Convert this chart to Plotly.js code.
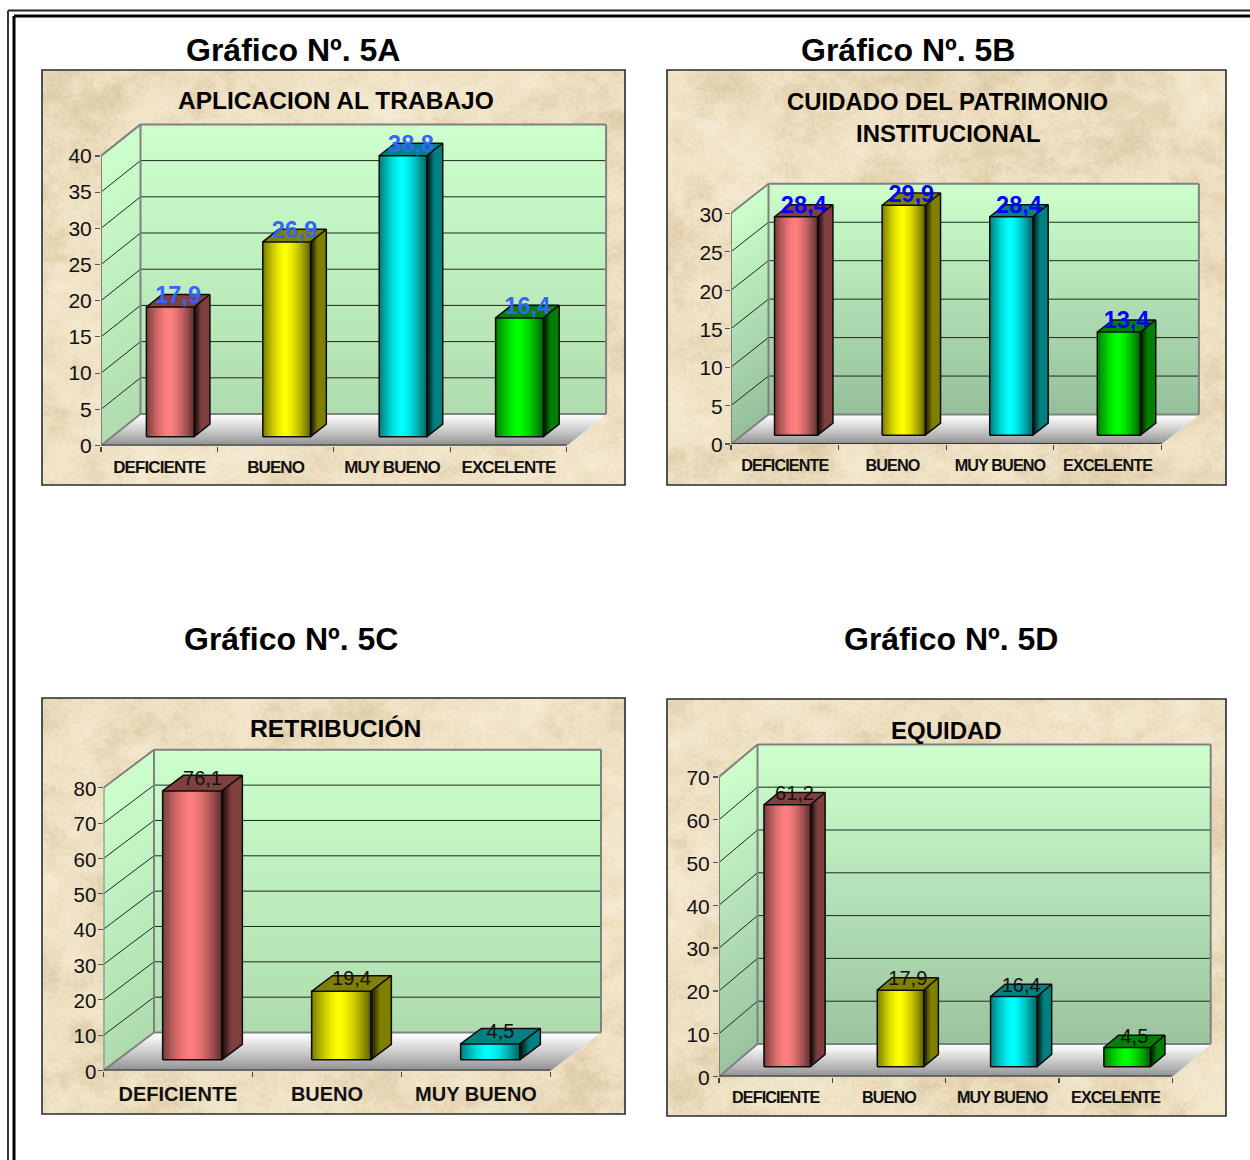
<!DOCTYPE html>
<html lang="es">
<head>
<meta charset="utf-8">
<script src="https://cdn.plot.ly/plotly-3.0.1.min.js"></script>
<style>
html,body{margin:0;padding:0;background:#fff}
#chart{width:1250px;height:1160px}
.xtick text,.x2tick text,.x4tick text{letter-spacing:-0.9px}
</style>
</head>
<body>
<div id="chart"></div>
<script>
// Ratings by category, in percent
const categories4 = ["DEFICIENTE", "BUENO", "MUY BUENO", "EXCELENTE"];
const categories3 = ["DEFICIENTE", "BUENO", "MUY BUENO"];
const valuesAplicacion = [17.9, 26.9, 38.8, 16.4];
const valuesCuidado = [28.4, 29.9, 28.4, 13.4];
const valuesRetribucion = [76.1, 19.4, 4.5];
const valuesEquidad = [61.2, 17.9, 16.4, 4.5];
const ticks40 = [0, 5, 10, 15, 20, 25, 30, 35, 40];
const ticks30 = [0, 5, 10, 15, 20, 25, 30];
const ticks80 = [0, 10, 20, 30, 40, 50, 60, 70, 80];
const ticks70 = [0, 10, 20, 30, 40, 50, 60, 70];
const faceColors = [[255, 128, 128], [255, 255, 0], [0, 255, 255], [0, 255, 0]];

const W = 1250, H = 1160;
const FONT = '"Liberation Sans", Arial, sans-serif';

// Page position and oblique projection of each panel
const panels = [
  {cats: categories4, vals: valuesAplicacion, ticks: ticks40, box: [42, 70, 625, 485],
   ox: 101, oy: 445.5, step: 116.4, ppu: 7.24, dx: 39.5, dy: 31.5, bar: 0.41, d0: 0.28, d1: 0.68,
   wallLow: [176, 221, 176], labelColor: '#3366FF', labelBold: true, labelSize: 23.5,
   catSize: 17, catStandoff: 1, tickSize: 21, standoff: -1, shift: 0},
  {cats: categories4, vals: valuesCuidado, ticks: ticks30, box: [667, 70, 1226, 485],
   ox: 731, oy: 444, step: 107.6, ppu: 7.69, dx: 37.5, dy: 29.5, bar: 0.40, d0: 0.30, d1: 0.71,
   wallLow: [150, 192, 155], labelColor: '#0000FF', labelBold: true, labelSize: 23.5,
   catSize: 16.2, catStandoff: 2, tickSize: 21, standoff: -2, shift: 1},
  {cats: categories3, vals: valuesRetribucion, ticks: ticks80, box: [42, 698, 625, 1114],
   ox: 103.5, oy: 1070.5, step: 149, ppu: 3.534, dx: 50.5, dy: 38, bar: 0.396, d0: 0.28, d1: 0.69,
   wallLow: [174, 220, 174], labelColor: '#111111', labelBold: false, labelSize: 20,
   catSize: 20, catStandoff: 0, tickSize: 20.5, standoff: -3, shift: 1},
  {cats: categories4, vals: valuesEquidad, ticks: ticks70, box: [667, 699, 1226, 1116],
   ox: 719, oy: 1076.5, step: 113.3, ppu: 4.28, dx: 38.5, dy: 32.5, bar: 0.41, d0: 0.30, d1: 0.68,
   wallLow: [156, 196, 160], labelColor: '#111111', labelBold: false, labelSize: 20,
   catSize: 16.2, catStandoff: 1, tickSize: 21, standoff: -1, shift: 1}
];
const outerTitles = [
  {text: 'Gráfico Nº. 5A', x: 292.5, y: 50},
  {text: 'Gráfico Nº. 5B', x: 907.5, y: 50},
  {text: 'Gráfico Nº. 5C', x: 291, y: 639},
  {text: 'Gráfico Nº. 5D', x: 951, y: 639}
];
const chartTitles = [
  {text: 'APLICACION AL TRABAJO', x: 335.5, y: 100.5, size: 24.5},
  {text: 'CUIDADO DEL PATRIMONIO', x: 947.5, y: 101, size: 23.9},
  {text: 'INSTITUCIONAL', x: 947.5, y: 134, size: 23.9},
  {text: 'RETRIBUCIÓN', x: 335, y: 728.5, size: 24.7},
  {text: 'EQUIDAD', x: 946.5, y: 730, size: 24}
];

const px = v => v / W;
const py = v => 1 - v / H;
const rgb = c => `rgb(${c.map(Math.round).join(',')})`;
const mix = (a, b, t) => a.map((v, i) => v + (b[i] - v) * t);

// Parchment background, built from layered value noise
function hash(x, y, s) {
  let h = Math.sin(x * 127.1 + y * 311.7 + s * 74.7) * 43758.5453;
  return h - Math.floor(h);
}
function vnoise(x, y, s) {
  const xi = Math.floor(x), yi = Math.floor(y);
  let fx = x - xi, fy = y - yi;
  fx = fx * fx * (3 - 2 * fx); fy = fy * fy * (3 - 2 * fy);
  const a = hash(xi, yi, s), b = hash(xi + 1, yi, s), c = hash(xi, yi + 1, s), d = hash(xi + 1, yi + 1, s);
  return a + (b - a) * fx + (c - a) * fy + (a - b - c + d) * fx * fy;
}
function parchment(w, h, seed) {
  const cv = document.createElement('canvas');
  cv.width = w; cv.height = h;
  const ctx = cv.getContext('2d');
  const img = ctx.createImageData(w, h);
  const light = [248, 239, 220], mid = [238, 224, 194], dark = [214, 194, 156];
  for (let y = 0; y < h; y++) for (let x = 0; x < w; x++) {
    const warp = vnoise(x / 40, y / 40, seed + 9) * 24;
    const big = vnoise((x + warp) / 70, (y - warp) / 55, seed) * 0.4 +
                vnoise((x - warp) / 28, (y + warp) / 22, seed + 1) * 0.35 +
                vnoise(x / 11, y / 9, seed + 2) * 0.25;
    const fine = vnoise(x / 3.5, y / 3, seed + 3) * 0.6 + vnoise(x / 1.6, y / 1.6, seed + 4) * 0.4;
    const t = (big - 0.5) * 1.8 + (fine - 0.5) * 0.55;
    const c = t > 0 ? mix(mid, light, Math.min(1, t)) : mix(mid, dark, Math.min(1, -t));
    const i = (y * w + x) * 4;
    img.data[i] = c[0]; img.data[i + 1] = c[1]; img.data[i + 2] = c[2]; img.data[i + 3] = 255;
  }
  ctx.putImageData(img, 0, 0);
  return cv.toDataURL('image/jpeg', 0.9);
}

const traces = [], shapes = [], annotations = [], images = [];
const layout = {
  width: W, height: H, margin: {l: 0, r: 0, t: 0, b: 0},
  paper_bgcolor: '#ffffff', plot_bgcolor: 'rgba(0,0,0,0)', showlegend: false,
  font: {family: FONT, color: '#111111'}, hovermode: false
};

// Double rule around the page
[[8, 10.5, 1.8, '#222222'], [14, 16, 3, '#000000']].forEach(([x, y, w, c]) => {
  shapes.push({type: 'line', xref: 'paper', yref: 'paper', x0: px(x), x1: px(x), y0: py(y), y1: 0, line: {color: c, width: w}});
  shapes.push({type: 'line', xref: 'paper', yref: 'paper', x0: px(x), x1: 1, y0: py(y), y1: py(y), line: {color: c, width: w}});
});

panels.forEach((p, idx) => {
  const n = p.cats.length, ymax = p.ticks[p.ticks.length - 1];
  const sfx = idx === 0 ? '' : String(idx + 1);
  const xa = 'x' + sfx, ya = 'y' + sfx;
  const dxu = p.dx / p.step, dyu = p.dy / p.ppu;
  const padX = 2 / p.step, padY = 2 / p.ppu;
  const xMax = n + dxu + padX, yMax = ymax + dyu + padY;

  // Panel background and frame
  const [bx0, by0, bx1, by1] = p.box;
  images.push({source: parchment(bx1 - bx0, by1 - by0, idx * 13 + 3), xref: 'paper', yref: 'paper',
    x: px(bx0), y: py(by0), sizex: px(bx1 - bx0), sizey: (by1 - by0) / H,
    sizing: 'stretch', xanchor: 'left', yanchor: 'top', layer: 'below'});
  shapes.push({type: 'rect', xref: 'paper', yref: 'paper', x0: px(bx0), x1: px(bx1), y0: py(by0), y1: py(by1),
    line: {color: '#2b2b2b', width: 1.6}, fillcolor: 'rgba(0,0,0,0)', layer: 'below'});

  layout['xaxis' + sfx] = {
    domain: [px(p.ox), px(p.ox + xMax * p.step)], range: [0, xMax], anchor: ya,
    showgrid: false, zeroline: false, showline: false, fixedrange: true,
    tickmode: 'array', tickvals: p.cats.map((_, i) => i + 0.5), ticktext: p.cats,
    ticks: 'outside', ticklen: 5, tickcolor: 'rgba(0,0,0,0)', ticklabelstandoff: p.catStandoff,
    tickfont: {family: FONT, size: p.catSize, color: '#111111', weight: 'bold'},
    tickangle: 0,
    minor: {tickmode: 'array', tickvals: Array.from({length: n + 1}, (_, i) => i), ticks: 'outside',
      ticklen: 5, tickcolor: '#444444', tickwidth: 1.2, showgrid: false}
  };
  layout['yaxis' + sfx] = {
    domain: [py(p.oy), py(p.oy - yMax * p.ppu)], range: [0, yMax], anchor: xa,
    showgrid: false, zeroline: false, showline: false, fixedrange: true,
    tickmode: 'array', tickvals: p.ticks, ticktext: p.ticks.map(String),
    ticks: 'outside', ticklen: 5, tickcolor: '#555555', tickwidth: 1.2,
    ticklabelstandoff: p.standoff, ticklabelshift: p.shift,
    tickfont: {family: FONT, size: p.tickSize, color: '#111111'}
  };

  const shape = (d, fill) => shapes.push({type: 'path', path: d, xref: xa, yref: ya, layer: 'below',
    fillcolor: fill, line: {width: 0}});
  const poly = pts => 'M' + pts.map(q => q[0] + ',' + q[1]).join('L') + 'Z';
  const wallTop = [204, 255, 204];

  // Back and side walls: strips painted from the top, each reaching the floor
  const wallSteps = 32;
  for (let k = 0; k < wallSteps; k++) {
    const v = ymax * (1 - k / wallSteps);
    const c = rgb(mix(wallTop, p.wallLow, k / (wallSteps - 1)));
    shape(poly([[dxu, v + dyu], [n + dxu, v + dyu], [n + dxu, dyu], [dxu, dyu]]), c);
    shape(poly([[0, v], [dxu, v + dyu], [dxu, dyu], [0, 0]]), c);
  }
  // Floor fades from white at the back to grey at the front
  const floorSteps = 18;
  for (let k = 0; k < floorSteps; k++) {
    const t = 1 - k / floorSteps;
    const c = rgb(mix([136, 136, 136], [255, 255, 255], Math.pow(t, 0.85)));
    shape(poly([[0, 0], [n, 0], [n + t * dxu, t * dyu], [t * dxu, t * dyu]]), c);
  }
  // Grid lines on both walls
  p.ticks.forEach(v => {
    if (v === 0 || v === ymax) return;
    [[dxu, v + dyu, n + dxu, v + dyu], [0, v, dxu, v + dyu]].forEach(s => shapes.push({
      type: 'line', xref: xa, yref: ya, x0: s[0], y0: s[1], x1: s[2], y1: s[3], layer: 'below',
      line: {color: '#1c2a1c', width: 1}}));
  });
  // Wall edges behind the bars
  [[dxu, dyu, dxu, ymax + dyu], [dxu, ymax + dyu, n + dxu, ymax + dyu], [n + dxu, ymax + dyu, n + dxu, dyu],
   [dxu, dyu, n + dxu, dyu], [0, ymax, dxu, ymax + dyu], [0, 0, dxu, dyu]].forEach(s => {
    shapes.push({type: 'line', xref: xa, yref: ya, x0: s[0], y0: s[1], x1: s[2], y1: s[3], layer: 'below',
      line: {color: '#808080', width: 2}});
  });

  const common = {xaxis: xa, yaxis: ya, hoverinfo: 'skip', showlegend: false};

  // Front faces: overlapping bars, each running from its strip to the right edge
  const strips = Math.round(p.bar * p.step);
  const stripX = [], stripY = [], stripBase = [], stripW = [], stripC = [];
  p.vals.forEach((v, i) => {
    const col = faceColors[i];
    const left = i + 0.5 - p.bar / 2 + p.d0 * dxu;
    for (let k = 0; k < strips; k++) {
      const t = (k + 0.5) / strips;
      const e = Math.min(1, Math.abs(t - 0.47) / 0.5);
      const shade = 1 - 0.58 * Math.pow(e, 1.5);
      stripX.push(left + p.bar * k / strips);
      stripY.push(v);
      stripBase.push(p.d0 * dyu);
      stripW.push(p.bar * (strips - k) / strips);
      stripC.push(rgb(col.map(c => c * shade)));
    }
  });
  traces.push(Object.assign({type: 'bar', x: stripX, y: stripY, base: stripBase, width: stripW, offset: 0,
    marker: {color: stripC, line: {width: 0}}}, common));

  // Side and top faces, outlines and value labels
  p.vals.forEach((v, i) => {
    const col = faceColors[i];
    const L = i + 0.5 - p.bar / 2, R = i + 0.5 + p.bar / 2;
    const at = (x, y, d) => [x + d * dxu, y + d * dyu];
    const sideSteps = 9;
    for (let k = 0; k < sideSteps; k++) {
      const d = p.d0 + (p.d1 - p.d0) * k / sideSteps;
      const t = k / (sideSteps - 1);
      const shade = 0.1 + 0.4 * Math.min(1, t / 0.45);
      const q = [at(R, 0, d), at(R, 0, p.d1), at(R, v, p.d1), at(R, v, d), at(R, 0, d)];
      traces.push(Object.assign({type: 'scatter', mode: 'none', fill: 'toself',
        fillcolor: rgb(col.map(c => c * shade)), x: q.map(a => a[0]), y: q.map(a => a[1])}, common));
    }
    const top = [at(L, v, p.d0), at(R, v, p.d0), at(R, v, p.d1), at(L, v, p.d1), at(L, v, p.d0)];
    traces.push(Object.assign({type: 'scatter', mode: 'none', fill: 'toself',
      fillcolor: rgb(col.map(c => c * 0.5)), x: top.map(a => a[0]), y: top.map(a => a[1])}, common));
    const A = at(L, 0, p.d0), B = at(R, 0, p.d0), C = at(R, v, p.d0), D = at(L, v, p.d0);
    const E = at(R, v, p.d1), F = at(R, 0, p.d1), G = at(L, v, p.d1);
    const gap = [null, null];
    const path = [A, B, C, D, A, gap, B, F, E, C, gap, D, G, E];
    traces.push(Object.assign({type: 'scatter', mode: 'lines', line: {color: '#0c0c0c', width: 1.5},
      x: path.map(a => a[0]), y: path.map(a => a[1])}, common));
  });

  // Front edges of the floor and side wall
  traces.push(Object.assign({type: 'scatter', mode: 'lines', cliponaxis: false, line: {color: '#808080', width: 2},
    x: [0, 0], y: [0, ymax]}, common));
  traces.push(Object.assign({type: 'scatter', mode: 'lines', cliponaxis: false, line: {color: '#333333', width: 2},
    x: [0, n], y: [0, 0]}, common));

  const dm = (p.d0 + p.d1) / 2;
  traces.push(Object.assign({type: 'scatter', mode: 'text', cliponaxis: false,
    x: p.vals.map((_, i) => i + 0.5 + dm * dxu),
    y: p.vals.map(v => v + dm * dyu + 3.5 / p.ppu),
    text: p.vals.map(v => v.toFixed(1).replace('.', ',')),
    textposition: 'middle center',
    textfont: {family: FONT, size: p.labelSize, color: p.labelColor, weight: p.labelBold ? 'bold' : 'normal'}}, common));
});

const addText = (t, size) => annotations.push({text: t.text, xref: 'paper', yref: 'paper', x: px(t.x), y: py(t.y),
  xanchor: 'center', yanchor: 'middle', showarrow: false,
  font: {family: FONT, size: size, color: '#000000', weight: 'bold'}});
outerTitles.forEach(t => addText(t, 32));
chartTitles.forEach(t => addText(t, t.size));

layout.shapes = shapes;
layout.annotations = annotations;
layout.images = images;
Plotly.newPlot('chart', traces, layout, {displayModeBar: false, staticPlot: true, responsive: false});
</script>
</body>
</html>
